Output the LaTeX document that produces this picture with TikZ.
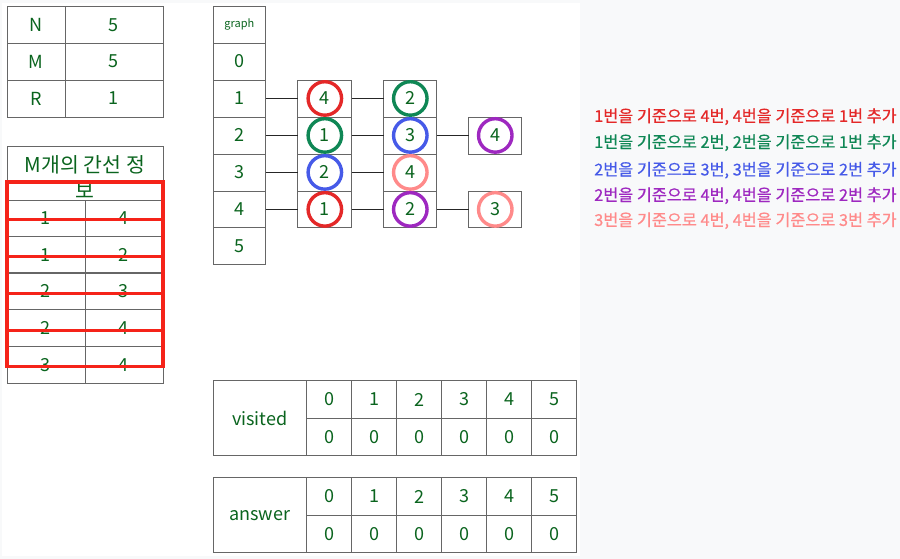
\documentclass[tikz,border=0pt]{standalone}
\usepackage{fontspec}
\setmainfont{Noto Sans CJK KR}
\newfontfamily\notefont[FakeBold=0.6]{Noto Sans CJK KR}
\definecolor{tgreen}{RGB}{10,100,30}
\definecolor{bggray}{RGB}{248,249,250}
\definecolor{cred}{RGB}{228,40,40}
\definecolor{cgreen}{RGB}{15,135,85}
\definecolor{cblue}{RGB}{70,90,232}
\definecolor{cpurple}{RGB}{158,40,192}
\definecolor{cpink}{RGB}{255,138,138}
\definecolor{boxred}{RGB}{245,35,25}
\tikzset{
  cell/.style={draw=black!60, line width=.8pt, minimum height=37pt, inner sep=0pt,
    outer sep=0pt, text=tgreen, font=\fontsize{18}{26}\selectfont},
  ring/.style={circle, draw=#1, line width=3.4pt, minimum size=33.5pt, inner sep=0pt,
    text=tgreen, font=\fontsize{18}{20}\selectfont},
  link/.style={draw=black!85, line width=.8pt},
  redbox/.style={draw=boxred, line width=3.2pt},
  note/.style={anchor=base west, font=\notefont\fontsize{16.3}{18}\selectfont}
}
\begin{document}
\begin{tikzpicture}[x=1pt,y=-1pt]
\fill[bggray] (0,0) rectangle (900,559);
\fill[white] (2,3) rectangle (580,556);
% N M R
\node[cell, minimum width=58pt] (n) at (36,25) {N};
\node[cell, minimum width=98pt] (nv) at (114,25) {5};
\node[cell, minimum width=58pt] (m) at (36,61.5) {M};
\node[cell, minimum width=98pt] (mv) at (114,61.5) {5};
\node[cell, minimum width=58pt] (r) at (36,98.5) {R};
\node[cell, minimum width=98pt] (rv) at (114,98.5) {1};
% edge list
\node[cell, minimum width=156pt, minimum height=54pt] (head) at (85,173) {};
\node[text=tgreen, align=center, inner sep=0pt, font=\fontsize{20.5}{26.5}\selectfont]
  (headtxt) at (85,177) {M개의 간선 정\\보};
\foreach \y/\u/\v [count=\k] in {218.5/1/4, 255/1/2, 291.5/2/3, 328.5/2/4, 365.5/3/4}{
  \node[cell, minimum width=78pt] (e\k u) at (46,\y) {\u};
  \node[cell, minimum width=78pt] (e\k v) at (124,\y) {\v};
}
\foreach \t/\b in {182/220, 220/257, 257/294, 294/331, 331/367}
  \draw[redbox] (7,\t) rectangle (163,\b);
% graph column
\node[cell, minimum width=53pt, font=\fontsize{11}{12}\selectfont] (gh) at (239.5,25) {graph};
\foreach \i in {0,...,5}
  \node[cell, minimum width=53pt] (g\i) at (239.5,61.5+37*\i) {\i};
% adjacency boxes
\foreach \i in {1,...,4}{
  \node[cell, minimum width=54pt] (a\i) at (325,61.5+37*\i) {};
  \node[cell, minimum width=53pt] (b\i) at (410.5,61.5+37*\i) {};
}
\node[cell, minimum width=53pt] (c2) at (495.5,135.5) {};
\node[cell, minimum width=53pt] (c4) at (495.5,209.5) {};
\node[ring=cred] at (a1) {4};
\node[ring=cgreen] at (a2) {1};
\node[ring=cblue] at (a3) {2};
\node[ring=cred] at (a4) {1};
\node[ring=cgreen] at (b1) {2};
\node[ring=cblue] at (b2) {3};
\node[ring=cpink] at (b3) {4};
\node[ring=cpurple] at (b4) {2};
\node[ring=cpurple] at (c2) {4};
\node[ring=cpink] at (c4) {3};
\foreach \i in {1,...,4}{
  \draw[link] (g\i.east) -- (a\i.west);
  \draw[link] (a\i.east) -- (b\i.west);
}
\draw[link] (b2.east) -- (c2.west);
\draw[link] (b4.east) -- (c4.west);
% visited / answer
\node[cell, minimum width=94pt, minimum height=75pt] (vis) at (260,418.5) {visited};
\node[cell, minimum width=94pt, minimum height=75pt] (ans) at (260,515.5) {answer};
\foreach \i in {0,...,5}{
  \node[cell, minimum width=45pt, minimum height=37.5pt] (vi\i) at (329.5+45*\i,399.75) {\i};
  \node[cell, minimum width=45pt, minimum height=37.5pt] (vv\i) at (329.5+45*\i,437.25) {0};
  \node[cell, minimum width=45pt, minimum height=37.5pt] (ai\i) at (329.5+45*\i,496.75) {\i};
  \node[cell, minimum width=45pt, minimum height=37.5pt] (av\i) at (329.5+45*\i,534.25) {0};
}
% notes
\node[note, text=cred] (t1) at (591,122) {1번을 기준으로 4번, 4번을 기준으로 1번 추가};
\node[note, text=cgreen] (t2) at (591,148) {1번을 기준으로 2번, 2번을 기준으로 1번 추가};
\node[note, text=cblue] (t3) at (591,175.5) {2번을 기준으로 3번, 3번을 기준으로 2번 추가};
\node[note, text=cpurple] (t4) at (591,201) {2번을 기준으로 4번, 4번을 기준으로 2번 추가};
\node[note, text=cpink] (t5) at (591,226) {3번을 기준으로 4번, 4번을 기준으로 3번 추가};
\end{tikzpicture}
\end{document}
